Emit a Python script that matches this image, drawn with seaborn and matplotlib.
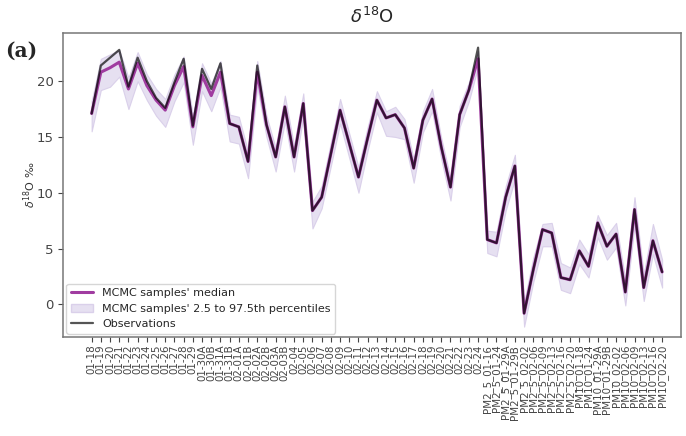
import numpy as np
import pandas as pd
import seaborn as sns
import matplotlib
matplotlib.use("Agg")
import matplotlib.pyplot as plt
from matplotlib.patches import Patch
from matplotlib.lines import Line2D

# Sample labels along the x axis
rain_labels = [
    "01-18", "01-19", "01-20", "01-21", "01-22", "01-23", "01-24", "01-25",
    "01-26", "01-27", "01-28", "01-29", "01-30A", "01-30B", "01-31A", "01-31B",
    "02-01A", "02-01B", "02-02A", "02-02B", "02-03A", "02-03B", "02-04", "02-05",
    "02-06", "02-07", "02-08", "02-09", "02-10", "02-11", "02-12", "02-13",
    "02-14", "02-15", "02-16", "02-17", "02-18", "02-19", "02-20", "02-21",
    "02-22", "02-23", "02-24",
]
pm25_labels = [
    "PM2_5_01-16", "PM2_5_01-24", "PM2_5_01-29A", "PM2_5_01-29B", "PM2_5_02-02",
    "PM2_5_02-06", "PM2_5_02-09", "PM2_5_02-13", "PM2_5_02-16", "PM2_5_02-20",
]
pm10_labels = [
    "PM10_01-18", "PM10_01-24", "PM10_01-29A", "PM10_01-29B", "PM10_02-02",
    "PM10_02-06", "PM10_02-09", "PM10_02-13", "PM10_02-16", "PM10_02-20",
]
sample_labels = rain_labels + pm25_labels + pm10_labels

# MCMC posterior median of d18O (permil)
mcmc_median = [
    17.1, 20.8, 21.2, 21.7, 19.3, 21.6, 19.6, 18.3, 17.4, 19.6,
    21.3, 15.9, 20.5, 18.7, 20.8, 16.2, 15.9, 12.8, 20.8, 16.1,
    13.2, 17.7, 13.2, 18.0, 8.4, 9.6, 13.5, 17.4, 14.4, 11.4,
    14.9, 18.3, 16.7, 17.0, 15.8, 12.2, 16.5, 18.4, 14.1, 10.5,
    17.0, 19.2, 22.0,
    5.8, 5.5, 9.6, 12.4, -0.8, 3.1, 6.7, 6.4, 2.4, 2.2,
    4.8, 3.4, 7.3, 5.2, 6.3, 1.1, 8.5, 1.5, 5.7, 2.9,
]
# 2.5th and 97.5th percentiles of the MCMC samples
mcmc_p025 = [
    15.5, 19.2, 19.5, 20.4, 17.5, 20.0, 18.3, 16.9, 15.9, 18.2,
    19.9, 14.3, 19.1, 17.3, 19.5, 14.6, 14.4, 11.3, 19.5, 15.0,
    11.9, 16.4, 11.9, 16.8, 6.8, 8.6, 12.4, 16.2, 13.1, 10.0,
    13.8, 17.2, 15.1, 15.0, 14.8, 10.9, 15.4, 17.3, 13.0, 9.3,
    15.9, 18.2, 21.3,
    4.6, 4.3, 8.4, 11.2, -2.0, 2.0, 5.2, 5.2, 1.3, 1.0,
    3.6, 2.4, 6.0, 4.0, 5.1, -0.1, 7.1, 0.3, 4.5, 1.5,
]
mcmc_p975 = [
    18.2, 22.0, 22.4, 22.8, 20.3, 22.6, 20.6, 19.3, 18.4, 20.6,
    22.2, 16.9, 21.6, 19.8, 21.8, 17.0, 16.8, 13.7, 21.8, 16.9,
    14.0, 18.7, 14.2, 18.9, 9.2, 10.6, 14.5, 18.4, 15.3, 12.3,
    15.9, 19.1, 17.3, 17.7, 16.6, 13.0, 17.3, 19.3, 14.9, 11.3,
    17.8, 19.9, 22.7,
    6.6, 6.5, 10.6, 13.4, 0.2, 4.2, 7.2, 7.3, 3.7, 3.3,
    5.8, 4.5, 8.0, 6.2, 7.3, 2.2, 9.6, 2.7, 7.2, 4.0,
]
# Measured d18O (permil)
observed = [
    17.1, 21.4, 22.1, 22.8, 19.5, 22.1, 20.0, 18.5, 17.6, 19.9,
    22.0, 16.0, 21.1, 19.3, 21.6, 16.2, 15.9, 12.8, 21.4, 16.1,
    13.2, 17.7, 13.2, 18.0, 8.4, 9.6, 13.5, 17.4, 14.4, 11.4,
    14.9, 18.3, 16.7, 17.0, 15.8, 12.2, 16.5, 18.4, 14.1, 10.5,
    17.0, 19.2, 23.0,
    5.8, 5.5, 9.6, 12.4, -0.8, 3.1, 6.7, 6.4, 2.4, 2.2,
    4.8, 3.4, 7.3, 5.2, 6.3, 1.1, 8.5, 1.5, 5.7, 2.9,
]

df = pd.DataFrame({
    "pos": np.arange(len(sample_labels)),
    "sample": sample_labels,
    "median": mcmc_median,
    "lo": mcmc_p025,
    "hi": mcmc_p975,
    "obs": observed,
})

sns.set_style("ticks")
plt.rcParams["font.family"] = ["DejaVu Sans"]

MEDIAN_C = "#a03ca0"
BAND_C = "#e2dbef"
BAND_EDGE = "#d6cbe8"
OBS_C = "black"

fig = plt.figure(figsize=(6.86, 4.36), dpi=100)
ax = fig.add_axes([0.092, 0.227, 0.900, 0.697])

ax.fill_between(df["pos"], df["lo"], df["hi"], color=BAND_C, alpha=0.85,
                linewidth=0.8, edgecolor=BAND_EDGE)
sns.lineplot(data=df, x="pos", y="median", ax=ax, color=MEDIAN_C,
             linewidth=2.2, legend=False)
sns.lineplot(data=df, x="pos", y="obs", ax=ax, color=OBS_C, alpha=0.68,
             linewidth=1.6, legend=False)

ax.set_xlim(-3.1, 64.0)
ax.set_ylim(-2.93, 24.3)
ax.set_xticks(df["pos"])
ax.set_xticklabels(sample_labels, rotation=90, fontsize=7.4, color="#222222")
ax.set_yticks([0, 5, 10, 15, 20])
ax.tick_params(axis="y", labelsize=9.5, colors="#444444", length=3.5)
ax.tick_params(axis="x", length=3.5, colors="#444444", pad=2)
ax.set_xlabel("")
ax.set_ylabel(r"$\delta^{18}$O ‰", fontsize=8, color="#333333", labelpad=-1)
ax.set_title(r"$\delta^{18}$O", fontsize=13, pad=7)
for sp in ax.spines.values():
    sp.set_visible(True)
    sp.set_color("#777777")
    sp.set_linewidth(1.1)

handles = [
    Line2D([0], [0], color=MEDIAN_C, linewidth=2.2),
    Patch(facecolor=BAND_C, edgecolor=BAND_EDGE, alpha=0.85),
    Line2D([0], [0], color="#555555", linewidth=1.6),
]
ax.legend(handles, ["MCMC samples' median",
                    "MCMC samples' 2.5 to 97.5th percentiles",
                    "Observations"],
          loc="lower left", fontsize=8, frameon=True, borderaxespad=0.3,
          handlelength=2.0, labelspacing=0.5)

fig.text(0.008, 0.87, "(a)", fontsize=14.5, fontweight="bold",
         family=["DejaVu Serif"])

fig.savefig("out.png", dpi=100)
